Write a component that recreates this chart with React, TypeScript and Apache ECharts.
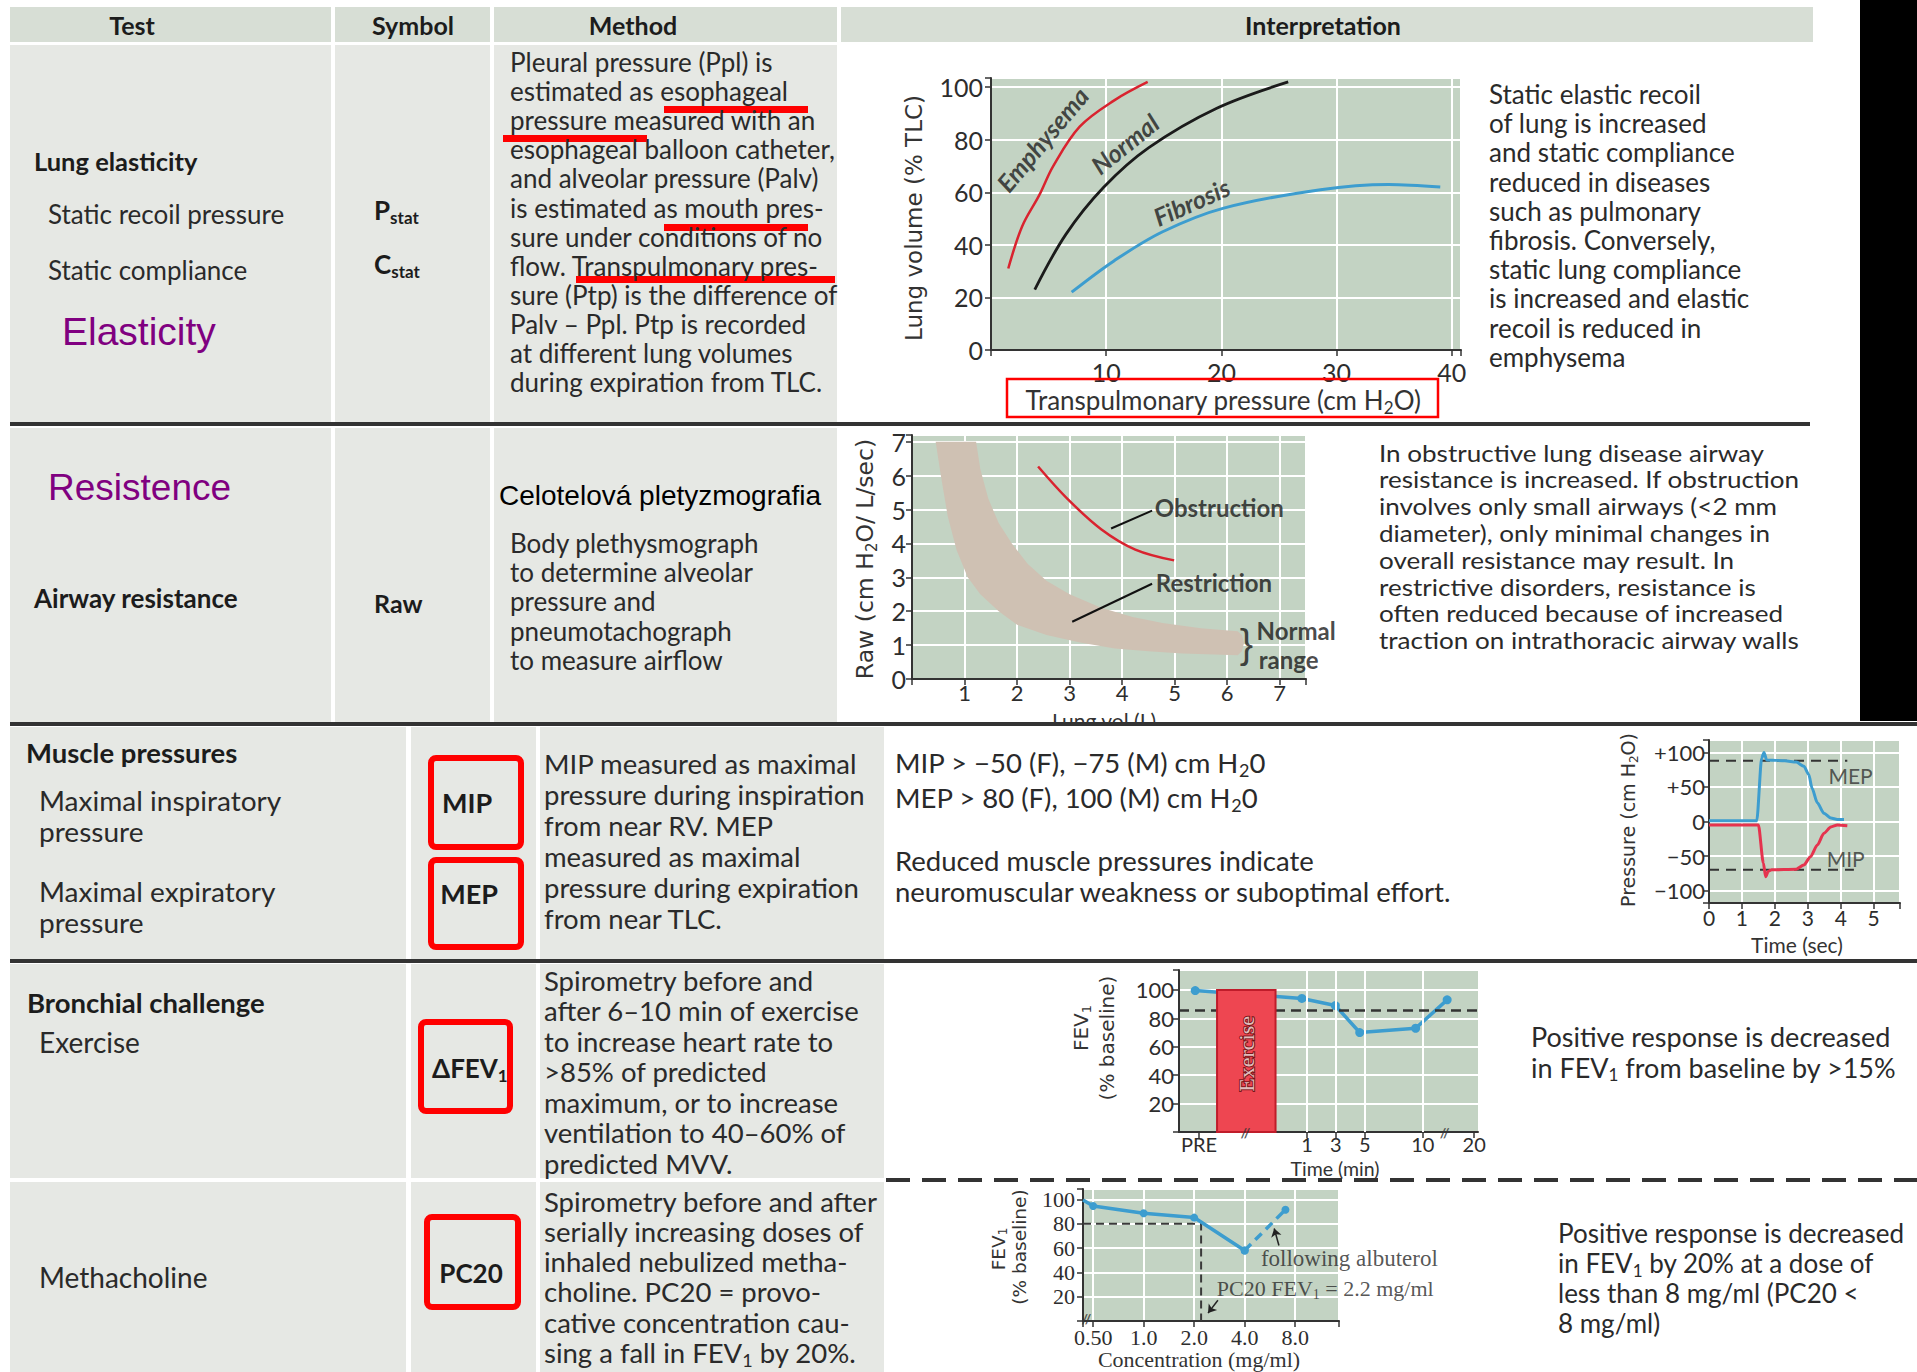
import React, { useEffect, useRef } from "react";
import * as echarts from "echarts";

// ---------------- TABLE TEXT ----------------
const headerLabels = ["Test", "Symbol", "Method", "Interpretation"];

const elasticityTests = ["Lung elasticity", "Static recoil pressure", "Static compliance"];
const elasticityTitle = "Elasticity";
const elasticitySymbols = ["P{s|stat}", "C{s|stat}"];
const elasticityMethod = [
  "Pleural pressure (Ppl) is",
  "estimated as esophageal",
  "pressure measured with an",
  "esophageal balloon catheter,",
  "and alveolar pressure (Palv)",
  "is estimated as mouth pres-",
  "sure under conditions of no",
  "flow. Transpulmonary pres-",
  "sure (Ptp) is the difference of",
  "Palv – Ppl. Ptp is recorded",
  "at different lung volumes",
  "during expiration from TLC.",
];
const elasticityInterp = [
  "Static elastic recoil",
  "of lung is increased",
  "and static compliance",
  "reduced in diseases",
  "such as pulmonary",
  "fibrosis. Conversely,",
  "static lung compliance",
  "is increased and elastic",
  "recoil is reduced in",
  "emphysema",
];

const resistanceTitle = "Resistence";
const resistanceTest = "Airway resistance";
const resistanceSymbol = "Raw";
const resistanceMethodTitle = "Celotelová pletyzmografia";
const resistanceMethod = [
  "Body plethysmograph",
  "to determine alveolar",
  "pressure and",
  "pneumotachograph",
  "to measure airflow",
];
const resistanceInterp = [
  "In obstructive lung disease airway",
  "resistance is increased. If obstruction",
  "involves only small airways (<2 mm",
  "diameter), only minimal changes in",
  "overall resistance may result. In",
  "restrictive disorders, resistance is",
  "often reduced because of increased",
  "traction on intrathoracic airway walls",
];

const muscleTests = ["Muscle pressures", "Maximal inspiratory", "pressure", "Maximal expiratory", "pressure"];
const muscleSymbols = ["MIP", "MEP"];
const muscleMethod = [
  "MIP measured as maximal",
  "pressure during inspiration",
  "from near RV. MEP",
  "measured as maximal",
  "pressure during expiration",
  "from near TLC.",
];
const muscleInterp = [
  "MIP > −50 (F), −75 (M) cm H{s|2}0",
  "MEP > 80 (F), 100 (M) cm H{s|2}0",
  "Reduced muscle pressures indicate",
  "neuromuscular weakness or suboptimal effort.",
];

const exerciseTests = ["Bronchial challenge", "Exercise"];
const exerciseSymbol = "ΔFEV{s|1}";
const exerciseMethod = [
  "Spirometry before and",
  "after 6–10 min of exercise",
  "to increase heart rate to",
  ">85% of predicted",
  "maximum, or to increase",
  "ventilation to 40–60% of",
  "predicted MVV.",
];
const exerciseInterp = ["Positive response is decreased", "in FEV{s|1} from baseline by >15%"];

const methaTest = "Methacholine";
const methaSymbol = "PC20";
const methaMethod = [
  "Spirometry before and after",
  "serially increasing doses of",
  "inhaled nebulized metha-",
  "choline. PC20 = provo-",
  "cative concentration cau-",
  "sing a fall in FEV{s|1} by 20%.",
];
const methaInterp = [
  "Positive response is decreased",
  "in FEV{s|1} by 20% at a dose of",
  "less than 8 mg/ml (PC20 <",
  "8 mg/ml)",
];

// ---------------- CHART DATA ----------------
// Lung elasticity: [transpulmonary pressure cmH2O, lung volume %TLC]
const emphysemaCurve = [[1.5, 31], [2.7, 47], [4.2, 59], [5.4, 70], [7.7, 85], [10.7, 95], [13.6, 102]];
const normalCurve = [[3.8, 23], [6.5, 44], [9.8, 62], [13.7, 77], [19.6, 92], [25.8, 102]];
const fibrosisCurve = [[7, 22], [10.7, 34], [14.9, 45], [20.2, 54], [28.6, 61], [34.5, 63], [39, 62]];
const elasticityLabels = ["Emphysema", "Normal", "Fibrosis"];
const elasticityAxisNames = ["Transpulmonary pressure (cm H{s|2}O)", "Lung volume (% TLC)"];

// Airway resistance: [lung volume L, Raw]
const normalRangeUpper = [
  [1.22, 7.0], [1.3, 6.2], [1.45, 5.33], [1.65, 4.6], [1.9, 4.0], [2.2, 3.4], [2.56, 2.9],
  [3.0, 2.5], [3.6, 2.1], [4.2, 1.83], [4.77, 1.65], [5.5, 1.5], [6.2, 1.41],
];
const normalRangeCap = [[6.28, 1.3], [6.32, 1.06], [6.28, 0.82]];
const normalRangeLower = [
  [6.2, 0.7], [5.15, 0.75], [4.5, 0.82], [3.86, 0.9], [3.2, 1.08], [2.56, 1.3], [2.0, 1.6],
  [1.65, 2.0], [1.3, 2.5], [1.06, 3.0], [0.85, 3.8], [0.68, 4.8], [0.55, 6.0], [0.45, 7.0],
];
const obstructionCurve = [[2.4, 6.27], [2.95, 5.33], [3.6, 4.42], [4.25, 3.82], [4.99, 3.5]];
const obstructionLeader = [[3.79, 4.44], [4.57, 4.97]];
const restrictionLeader = [[3.05, 1.69], [4.57, 2.81]];
const resistanceLabels = ["Obstruction", "Restriction", "Normal", "range", "}"];
const resistanceAxisNames = ["Lung vol (L)", "Raw (cm H{s|2}O/ L/sec)"];

// Muscle pressures: [time s, pressure cmH2O]
const mepTrace = [
  [0, 1], [1.45, 1], [1.6, 92], [1.67, 100], [1.75, 89], [2.3, 88], [2.65, 86], [2.88, 80],
  [3.03, 68], [3.13, 48], [3.29, 27], [3.49, 12], [3.7, 5], [3.9, 3], [4.1, 3],
];
const mipTrace = [
  [0, -5], [1.5, -5], [1.65, -60], [1.72, -80], [1.8, -72], [1.9, -70], [2.65, -69], [2.88, -63],
  [3.08, -51], [3.29, -34], [3.49, -17], [3.7, -8], [3.9, -5], [4.2, -6],
];
const mepThreshold = 88;
const mipThreshold = -70;
const thresholdEnds = [4.2, 4.4];
const muscleLabels = ["MEP", "MIP"];
const muscleAxisNames = ["Time (sec)", "Pressure (cm H{s|2}O)"];

// Exercise challenge: plotted time position, FEV1 % baseline
const exerciseTicks = ["PRE", "1", "3", "5", "10", "20"];
const exerciseTickPos = [-7.4, 1, 3.23, 5.5, 10, 14.0];
const exerciseFev = [[-7.7, 99.5], [0.6, 94], [3.2, 89], [5.1, 70], [9.45, 73], [11.9, 93]];
const exercisePeriod = [-6.0, -1.45];
const exerciseBarTop = 100;
const exerciseThreshold = 85.5;
const exerciseBreaks = [-3.8, 11.7];
const exerciseAxisNames = ["Time (min)", "FEV{s|1}", "(% baseline)"];

// Methacholine challenge: [concentration mg/ml, FEV1 % baseline]
const methaFev = [[0.435, 99.5], [0.5, 94.5], [1, 88.5], [2, 85], [4, 58]];
const methaAlbuterol = [[4, 58], [7, 91.5]];
const pc20Value = 2.2;
const pc20Level = 80;
const methaLabels = ["following albuterol", "PC20 FEV{s|1} = 2.2 mg/ml"];
const methaAxisNames = ["Concentration (mg/ml)", "FEV{s|1}", "(% baseline)"];

// ---------------- STYLE ----------------
const FONT = "Lato, 'Liberation Sans', 'DejaVu Sans', sans-serif";
const ARIAL = "'Liberation Sans', Arial, sans-serif";
const DEJAVU = "'DejaVu Sans', Verdana, sans-serif";
const SERIF = "'Liberation Serif', 'DejaVu Serif', serif";
const INK = "#2a2a2a";
const BOLDINK = "#1c1c1c";
const PURPLE = "#800080";
const RED = "#ff0000";
const LINE_RED = "#d9232f";
const BLUE = "#3d9dcf";
const PLOT_BG = "#c3d3c3";
const CELL = "#e6e8e4";
const HEAD = "#d7ded5";
const BAND = "#cfc1b3";
const RULE = "#333333";

function sub(fs: number, fam: string, fw: string, fill: string) {
  return {
    s: {
      fontSize: Math.round(fs * 0.64),
      fontFamily: fam,
      fontWeight: fw,
      fill,
      color: fill,
      lineHeight: Math.round(fs * 0.72),
      verticalAlign: "bottom",
    },
  };
}

function txt(x: number, y: number, text: string, o: any = {}) {
  const fs = o.size ?? 26;
  const fam = o.family ?? FONT;
  const fw = o.weight ?? "normal";
  const fill = o.color ?? INK;
  return {
    type: "text",
    x,
    y,
    z: o.z ?? 50,
    rotation: o.rotation ?? 0,
    scaleX: o.scaleX ?? 1,
    silent: true,
    style: {
      text,
      fontSize: fs,
      fontFamily: fam,
      fontWeight: fw,
      fontStyle: o.style ?? "normal",
      fill,
      align: o.align ?? "left",
      verticalAlign: "middle",
      lineHeight: o.lineHeight ?? Math.round(fs * 1.2),
      rich: sub(fs, fam, fw, fill),
    },
  };
}

function lines(x: number, y0: number, step: number, arr: string[], o: any = {}) {
  return arr.map((t, i) => txt(x, y0 + i * step, t, o));
}

function rect(x: number, y: number, w: number, h: number, fill: string, z = -10) {
  return { type: "rect", silent: true, z, shape: { x, y, width: w, height: h }, style: { fill } };
}

function redBox(x: number, y: number, w: number, h: number, lw = 6) {
  return {
    type: "rect",
    silent: true,
    z: 40,
    shape: { x: x + lw / 2, y: y + lw / 2, width: w - lw, height: h - lw, r: 5 },
    style: { fill: "none", stroke: RED, lineWidth: lw },
  };
}

function buildGraphic() {
  const els: any[] = [];
  // header
  els.push(rect(10, 7, 321, 35, HEAD), rect(335, 7, 155, 35, HEAD), rect(494, 7, 343, 35, HEAD), rect(841, 7, 972, 35, HEAD));
  // rows 1-2 cells
  [[45, 377], [428, 294]].forEach(([y, h]) => {
    els.push(rect(10, y, 321, h, CELL), rect(335, y, 155, h, CELL), rect(494, y, 343, h, CELL));
  });
  // rows 3-5 cells
  [[727, 232], [964, 214], [1182, 190]].forEach(([y, h]) => {
    els.push(rect(10, y, 396, h, CELL), rect(411, y, 125, h, CELL), rect(540, y, 344, h, CELL));
  });
  // rules
  els.push(rect(10, 422, 1800, 4, RULE, 20), rect(10, 722, 1907, 4, RULE, 20), rect(10, 959, 1907, 4, RULE, 20));
  // white strip that hides the lower part of the cut-off "Lung vol (L)" label
  els.push(rect(1040, 726, 140, 12, "#ffffff", 16));
  els.push({
    type: "line",
    silent: true,
    z: 20,
    shape: { x1: 886, y1: 1180, x2: 1917, y2: 1180 },
    style: { stroke: RULE, lineWidth: 4, lineDash: [24, 12] },
  });
  // black bar on the right
  els.push(rect(1860, 0, 57, 721, "#000000", 30));

  // header labels
  const hx = [132, 413, 633, 1323];
  headerLabels.forEach((h, i) => els.push(txt(hx[i], 25, h, { size: 25, weight: "bold", align: "center", color: BOLDINK })));

  // ---- row 1 elasticity
  els.push(txt(34, 161, elasticityTests[0], { size: 25.5, weight: "bold", color: BOLDINK }));
  els.push(txt(48, 214, elasticityTests[1], { size: 26 }));
  els.push(txt(48, 270, elasticityTests[2], { size: 26 }));
  els.push(txt(62, 331, elasticityTitle, { size: 39, family: ARIAL, color: PURPLE }));
  els.push(txt(374, 210, elasticitySymbols[0], { size: 26, weight: "bold", color: BOLDINK }));
  els.push(txt(374, 264, elasticitySymbols[1], { size: 26, weight: "bold", color: BOLDINK }));
  els.push(...lines(510, 62, 29.1, elasticityMethod, { size: 26 }));
  els.push(...lines(1489, 94, 29.2, elasticityInterp, { size: 26 }));
  // red underline marks
  els.push(rect(664, 106, 144, 7, RED, 40), rect(503, 135, 144, 7, RED, 40), rect(664, 224, 144, 7, RED, 40), rect(576, 276, 259, 7, RED, 40));
  // chart 1 axis names
  els.push(txt(914, 218, elasticityAxisNames[1], { size: 23, family: DEJAVU, align: "center", rotation: Math.PI / 2, color: "#333" }));
  els.push(txt(1223, 400, elasticityAxisNames[0], { size: 26, align: "center", color: "#333" }));
  els.push({
    type: "rect",
    silent: true,
    z: 40,
    shape: { x: 1007, y: 379, width: 431, height: 38 },
    style: { fill: "none", stroke: RED, lineWidth: 2.5 },
  });

  // ---- row 2 resistance
  els.push(txt(48, 487, resistanceTitle, { size: 37, family: ARIAL, color: PURPLE }));
  els.push(txt(499, 495, resistanceMethodTitle, { size: 28, family: ARIAL, color: "#000" }));
  els.push(txt(34, 598, resistanceTest, { size: 26, weight: "bold", color: BOLDINK }));
  els.push(txt(374, 603, resistanceSymbol, { size: 25, weight: "bold", color: BOLDINK }));
  els.push(...lines(510, 543, 29.2, resistanceMethod, { size: 26 }));
  els.push(...lines(1379, 452, 26.8, resistanceInterp, { size: 24, scaleX: 1.085, lineHeight: 26 }));
  els.push(txt(865, 559, resistanceAxisNames[1], { size: 23.5, family: DEJAVU, align: "center", rotation: Math.PI / 2, color: "#333" }));
  els.push(txt(1104, 720, resistanceAxisNames[0], { size: 21, align: "center", color: "#333", z: 15, lineHeight: 21 }));

  // ---- row 3 muscle
  els.push(txt(26, 752, muscleTests[0], { size: 27.5, weight: "bold", color: BOLDINK }));
  els.push(txt(39, 801, muscleTests[1], { size: 27.5, scaleX: 1.02 }));
  els.push(txt(39, 832, muscleTests[2], { size: 27.5, scaleX: 1.02 }));
  els.push(txt(39, 892, muscleTests[3], { size: 27.5, scaleX: 1.02 }));
  els.push(txt(39, 923, muscleTests[4], { size: 27.5, scaleX: 1.02 }));
  els.push(redBox(428, 755, 96, 95), redBox(428, 857, 96, 93));
  els.push(txt(467, 802, muscleSymbols[0], { size: 27, weight: "bold", align: "center", color: BOLDINK }));
  els.push(txt(469, 893, muscleSymbols[1], { size: 27, weight: "bold", align: "center", color: BOLDINK }));
  els.push(...lines(544, 763, 31, muscleMethod, { size: 27.5 }));
  els.push(txt(895, 762, muscleInterp[0], { size: 27.5 }));
  els.push(txt(895, 797, muscleInterp[1], { size: 27.5 }));
  els.push(txt(895, 860, muscleInterp[2], { size: 27.5 }));
  els.push(txt(895, 891, muscleInterp[3], { size: 27.5 }));
  els.push(txt(1628, 820, muscleAxisNames[1], { size: 19, family: DEJAVU, align: "center", rotation: Math.PI / 2, color: "#333" }));
  els.push(txt(1797, 944, muscleAxisNames[0], { size: 21, align: "center", color: "#333", lineHeight: 22 }));

  // ---- row 4 exercise
  els.push(txt(27, 1002, exerciseTests[0], { size: 27.5, weight: "bold", color: BOLDINK }));
  els.push(txt(39, 1042, exerciseTests[1], { size: 28 }));
  els.push(redBox(418, 1019, 95, 95));
  els.push(txt(432, 1068, exerciseSymbol, { size: 26, weight: "bold", color: BOLDINK }));
  els.push(...lines(544, 980, 30.5, exerciseMethod, { size: 27.5 }));
  els.push(txt(1531, 1036, exerciseInterp[0], { size: 27 }));
  els.push(txt(1531, 1067, exerciseInterp[1], { size: 27 }));
  els.push(txt(1081, 1028, exerciseAxisNames[1], { size: 20, family: DEJAVU, align: "center", rotation: Math.PI / 2, color: "#333" }));
  els.push(txt(1107, 1038, exerciseAxisNames[2], { size: 20, family: DEJAVU, align: "center", rotation: Math.PI / 2, color: "#333" }));
  els.push(txt(1335, 1168, exerciseAxisNames[0], { size: 19.5, align: "center", color: "#333", lineHeight: 20 }));

  // ---- row 5 methacholine
  els.push(txt(39, 1277, methaTest, { size: 28 }));
  els.push(redBox(424, 1214, 97, 96));
  els.push(txt(471, 1273, methaSymbol, { size: 26, weight: "bold", align: "center", color: BOLDINK }));
  els.push(...lines(544, 1201, 30.3, methaMethod, { size: 27.5 }));
  els.push(...lines(1558, 1233, 30, methaInterp, { size: 26 }));
  els.push(txt(998, 1249, methaAxisNames[1], { size: 18.5, family: DEJAVU, align: "center", rotation: Math.PI / 2, color: "#333" }));
  els.push(txt(1019, 1247, methaAxisNames[2], { size: 18.5, family: DEJAVU, align: "center", rotation: Math.PI / 2, color: "#333" }));
  els.push(txt(1199, 1359, methaAxisNames[0], { size: 22, family: SERIF, align: "center", color: "#333", lineHeight: 24 }));
  return els;
}

// ---------------- AXES / SERIES HELPERS ----------------
function axis(gridIndex: number, o: any) {
  const fam = o.family ?? FONT;
  return {
    type: o.type ?? "value",
    gridIndex,
    min: o.min,
    max: o.max,
    interval: o.interval,
    splitNumber: o.splitNumber,
    logBase: o.logBase,
    axisLine: { show: true, onZero: false, lineStyle: { color: RULE, width: 2 } },
    axisTick: {
      show: true,
      inside: false,
      length: 6,
      lineStyle: { color: RULE, width: 1.5 },
      ...(o.customValues ? { customValues: o.customValues } : {}),
    },
    axisLabel: {
      show: true,
      margin: o.margin ?? 8,
      fontFamily: fam,
      fontSize: o.size ?? 24,
      color: "#2d2d2d",
      formatter: o.formatter,
      ...(o.customValues ? { customValues: o.customValues } : {}),
    },
    splitLine: { show: o.split ?? true, lineStyle: { color: "#ffffff", width: 2 } },
  };
}

function line(idx: number, data: any[], color: string, width: number, extra: any = {}) {
  return {
    type: "line",
    xAxisIndex: idx,
    yAxisIndex: idx,
    data,
    symbol: "none",
    showSymbol: false,
    silent: true,
    z: 3,
    lineStyle: { color, width, ...(extra.lineStyle ?? {}) },
    itemStyle: { color },
    ...Object.fromEntries(Object.entries(extra).filter(([k]) => k !== "lineStyle")),
  };
}

function annot(idx: number, items: any[]) {
  return {
    type: "scatter",
    xAxisIndex: idx,
    yAxisIndex: idx,
    silent: true,
    z: 10,
    clip: false,
    symbolSize: 1,
    itemStyle: { color: "rgba(0,0,0,0)" },
    data: items.map((it) => {
      const fs = it.size ?? 24;
      const fam = it.family ?? FONT;
      const fw = it.weight ?? "normal";
      const col = it.color ?? INK;
      return {
        value: [it.x, it.y],
        label: {
          show: true,
          position: "inside",
          formatter: () => it.text,
          align: it.align ?? "left",
          verticalAlign: "middle",
          rotate: it.rotate ?? 0,
          fontSize: fs,
          fontFamily: fam,
          fontWeight: fw,
          fontStyle: it.style ?? "normal",
          color: col,
          textBorderColor: it.border ?? "transparent",
          textBorderWidth: it.border ? 2 : 0,
          lineHeight: Math.round(fs * 1.2),
          rich: sub(fs, fam, fw, col),
        },
      };
    }),
  };
}

function buildOption() {
  const grids = [
    { left: 991, top: 78, width: 470, height: 272 },
    { left: 912, top: 435, width: 394, height: 244 },
    { left: 1709, top: 740, width: 191, height: 163 },
    { left: 1179, top: 970, width: 299, height: 162 },
    { left: 1083, top: 1189, width: 256, height: 132 },
  ].map((g) => ({ ...g, show: true, backgroundColor: PLOT_BG, borderWidth: 0, containLabel: false, outerBoundsMode: "none" }));

  const isMult = (v: number, m: number) => Math.abs(v / m - Math.round(v / m)) < 1e-6;

  const xAxis = [
    axis(0, { min: 0, max: 40.8, interval: 10, size: 25, margin: 9, formatter: (v: number) => (v > 0 && isMult(v, 10) ? String(v) : "") }),
    axis(1, { min: 0, max: 7.5, interval: 1, size: 22, margin: 2, formatter: (v: number) => (v > 0 && isMult(v, 1) ? String(v) : "") }),
    axis(2, { min: 0, max: 5.8, interval: 1, size: 21, margin: 4, formatter: (v: number) => (isMult(v, 1) ? String(v) : "") }),
    axis(3, {
      min: -8.96,
      max: 14.3,
      size: 20,
      margin: 2,
      split: false,
      customValues: exerciseTickPos,
      formatter: (v: number) => {
        const i = exerciseTickPos.findIndex((p) => Math.abs(p - v) < 1e-6);
        return i >= 0 ? exerciseTicks[i] : "";
      },
    }),
    axis(4, {
      type: "log",
      logBase: 2,
      min: 0.435,
      max: 14.6,
      size: 22,
      margin: 5,
      family: SERIF,
      formatter: (v: number) => {
        const vals = [0.5, 1, 2, 4, 8];
        const hit = vals.find((p) => Math.abs(p - v) < 1e-6);
        if (hit === undefined) return "";
        return hit < 1 ? hit.toFixed(2) : hit.toFixed(1);
      },
    }),
  ];

  const yAxis = [
    axis(0, { min: 0, max: 103.5, interval: 20, size: 25, margin: 8, formatter: (v: number) => (isMult(v, 20) ? String(v) : "") }),
    axis(1, { min: 0, max: 7.2, interval: 1, size: 25, margin: 6, formatter: (v: number) => (isMult(v, 1) ? String(v) : "") }),
    axis(2, {
      min: -118,
      max: 118,
      splitNumber: 5,
      size: 22,
      margin: 4,
      formatter: (v: number) => {
        if (!isMult(v, 50)) return "";
        if (v > 0) return "+" + v;
        if (v < 0) return "−" + Math.abs(v);
        return "0";
      },
    }),
    axis(3, { min: 0, max: 114, interval: 20, size: 22, margin: 5, formatter: (v: number) => (v > 0 && isMult(v, 20) ? String(v) : "") }),
    axis(4, { min: 0, max: 108.5, interval: 20, size: 22, margin: 8, family: SERIF, formatter: (v: number) => (v > 0 && isMult(v, 20) ? String(v) : "") }),
  ];

  const series: any[] = [
    // ---- elasticity
    line(0, emphysemaCurve, LINE_RED, 2.5, { smooth: 0.35 }),
    line(0, normalCurve, "#1b1b1b", 2.8, { smooth: 0.35 }),
    line(0, fibrosisCurve, BLUE, 3, { smooth: 0.35 }),
    annot(0, [
      { x: 4.45, y: 80.2, text: elasticityLabels[0], rotate: 50, align: "center", size: 25, weight: "bold", style: "italic", color: "#1e1e1e" },
      { x: 11.6, y: 78.5, text: elasticityLabels[1], rotate: 39, align: "center", size: 25, weight: "bold", style: "italic", color: "#1e1e1e" },
      { x: 17.4, y: 56.4, text: elasticityLabels[2], rotate: 24, align: "center", size: 25, weight: "bold", style: "italic", color: "#1e1e1e" },
    ]),
    // ---- resistance
    {
      type: "custom",
      xAxisIndex: 1,
      yAxisIndex: 1,
      silent: true,
      clip: false,
      z: 2,
      data: [[0, 0]],
      renderItem: (_p: any, api: any) => ({
        type: "polygon",
        shape: { points: [...normalRangeUpper, ...normalRangeCap, ...normalRangeLower].map((pt) => api.coord(pt)) },
        style: { fill: BAND },
      }),
    },
    line(1, obstructionCurve, LINE_RED, 2.5, { smooth: 0.35 }),
    line(1, obstructionLeader, "#111", 2),
    line(1, restrictionLeader, "#111", 2),
    annot(1, [
      { x: 4.62, y: 5.05, text: resistanceLabels[0], size: 24, weight: "bold", color: "#1a1a1a" },
      { x: 4.64, y: 2.84, text: resistanceLabels[1], size: 24, weight: "bold", color: "#1a1a1a" },
      { x: 6.56, y: 1.42, text: resistanceLabels[2], size: 24, weight: "bold", color: "#1a1a1a" },
      { x: 6.6, y: 0.58, text: resistanceLabels[3], size: 24, weight: "bold", color: "#1a1a1a" },
      { x: 6.24, y: 1.02, text: resistanceLabels[4], size: 40, family: ARIAL, color: "#1a1a1a" },
    ]),
    // ---- muscle pressures
    line(2, [[0, mepThreshold], [thresholdEnds[0], mepThreshold]], "#333", 2, { lineStyle: { type: [10, 7] }, z: 2 }),
    line(2, [[0, mipThreshold], [thresholdEnds[1], mipThreshold]], "#333", 2, { lineStyle: { type: [10, 7] }, z: 2 }),
    line(2, mepTrace, BLUE, 3, { smooth: 0.25, smoothMonotone: "x" }),
    line(2, mipTrace, "#e5334e", 3, { smooth: 0.25, smoothMonotone: "x" }),
    annot(2, [
      { x: 4.3, y: 66, text: muscleLabels[0], align: "center", size: 21, color: "#333" },
      { x: 4.15, y: -54, text: muscleLabels[1], align: "center", size: 21, color: "#333" },
    ]),
    // ---- exercise
    {
      type: "line",
      xAxisIndex: 3,
      yAxisIndex: 3,
      data: [],
      silent: true,
      z: 1,
      markLine: {
        silent: true,
        symbol: "none",
        label: { show: false },
        lineStyle: { color: "#ffffff", width: 2, type: "solid" },
        data: exerciseTickPos.slice(1, 5).map((v) => ({ xAxis: v })),
      },
    },
    {
      type: "line",
      xAxisIndex: 3,
      yAxisIndex: 3,
      data: exerciseFev,
      silent: true,
      z: 3,
      symbol: "circle",
      symbolSize: 9,
      showSymbol: true,
      lineStyle: { color: BLUE, width: 3.5 },
      itemStyle: { color: BLUE },
    },
    {
      type: "custom",
      xAxisIndex: 3,
      yAxisIndex: 3,
      silent: true,
      z: 5,
      data: [[exercisePeriod[0], exercisePeriod[1], exerciseBarTop]],
      renderItem: (_p: any, api: any) => {
        const p0 = api.coord([api.value(0), 0]);
        const p1 = api.coord([api.value(1), api.value(2)]);
        return {
          type: "rect",
          shape: { x: p0[0], y: p1[1], width: p1[0] - p0[0], height: p0[1] - p1[1] },
          style: { fill: "#ee4651", stroke: "#c01c2a", lineWidth: 2 },
        };
      },
    },
    {
      type: "line",
      xAxisIndex: 3,
      yAxisIndex: 3,
      data: [],
      silent: true,
      z: 6,
      markLine: {
        silent: true,
        symbol: "none",
        label: { show: false },
        lineStyle: { color: "#333", width: 2.5, type: [10, 6] },
        data: [{ yAxis: exerciseThreshold }],
      },
    },
    {
      ...annot(3, [
        { x: (exercisePeriod[0] + exercisePeriod[1]) / 2, y: 55, text: "Exercise", rotate: 90, align: "center", size: 22, family: SERIF, color: "#ffecec", border: "#5a0a0a" },
        { x: exerciseBreaks[0], y: 0, text: "//", align: "center", size: 14, weight: "bold", color: "#333" },
        { x: exerciseBreaks[1], y: 0, text: "//", align: "center", size: 14, weight: "bold", color: "#333" },
      ]),
      z: 12,
    },
    // ---- methacholine
    line(4, [[0.435, pc20Level], [pc20Value, pc20Level], [pc20Value, 0]], "#3a3a3a", 2, { lineStyle: { type: [8, 5] }, z: 2 }),
    {
      type: "line",
      xAxisIndex: 4,
      yAxisIndex: 4,
      data: methaFev,
      silent: true,
      z: 3,
      symbol: (v: any) => (v[0] < 0.45 ? "none" : "circle"),
      symbolSize: 8,
      showSymbol: true,
      lineStyle: { color: BLUE, width: 3.5 },
      itemStyle: { color: BLUE },
    },
    {
      type: "line",
      xAxisIndex: 4,
      yAxisIndex: 4,
      data: methaAlbuterol,
      silent: true,
      z: 3,
      symbol: "circle",
      symbolSize: 8,
      showSymbol: true,
      lineStyle: { color: BLUE, width: 3.5, type: [9, 6] },
      itemStyle: { color: BLUE },
      markLine: {
        silent: true,
        symbol: ["none", "arrow"],
        symbolSize: 8,
        label: { show: false },
        lineStyle: { color: "#222", width: 1.5, type: "solid" },
        data: [
          [{ coord: [6.4, 62] }, { coord: [6.0, 76] }],
          [{ coord: [2.77, 17] }, { coord: [2.42, 6.5] }],
        ],
      },
    },
    annot(4, [
      { x: 5.0, y: 51, text: methaLabels[0], size: 23, family: SERIF, color: "#2a2a2a" },
      { x: 2.73, y: 27, text: methaLabels[1], size: 22, family: SERIF, color: "#2a2a2a" },
      { x: 0.455, y: 2, text: "//", align: "center", size: 14, weight: "bold", color: "#333" },
    ]),
  ];

  return {
    animation: false,
    backgroundColor: "#ffffff",
    grid: grids,
    xAxis,
    yAxis,
    series,
    graphic: { elements: buildGraphic() },
  };
}

export default function App() {
  const ref = useRef<HTMLDivElement>(null);
  useEffect(() => {
    document.body.style.margin = "0";
    document.body.style.overflow = "hidden";
    const chart = echarts.init(ref.current as HTMLDivElement, null, { renderer: "svg", width: 1917, height: 1372 });
    chart.setOption(buildOption() as any);
    return () => chart.dispose();
  }, []);
  return <div ref={ref} style={{ width: 1917, height: 1372, background: "#ffffff" }} />;
}
